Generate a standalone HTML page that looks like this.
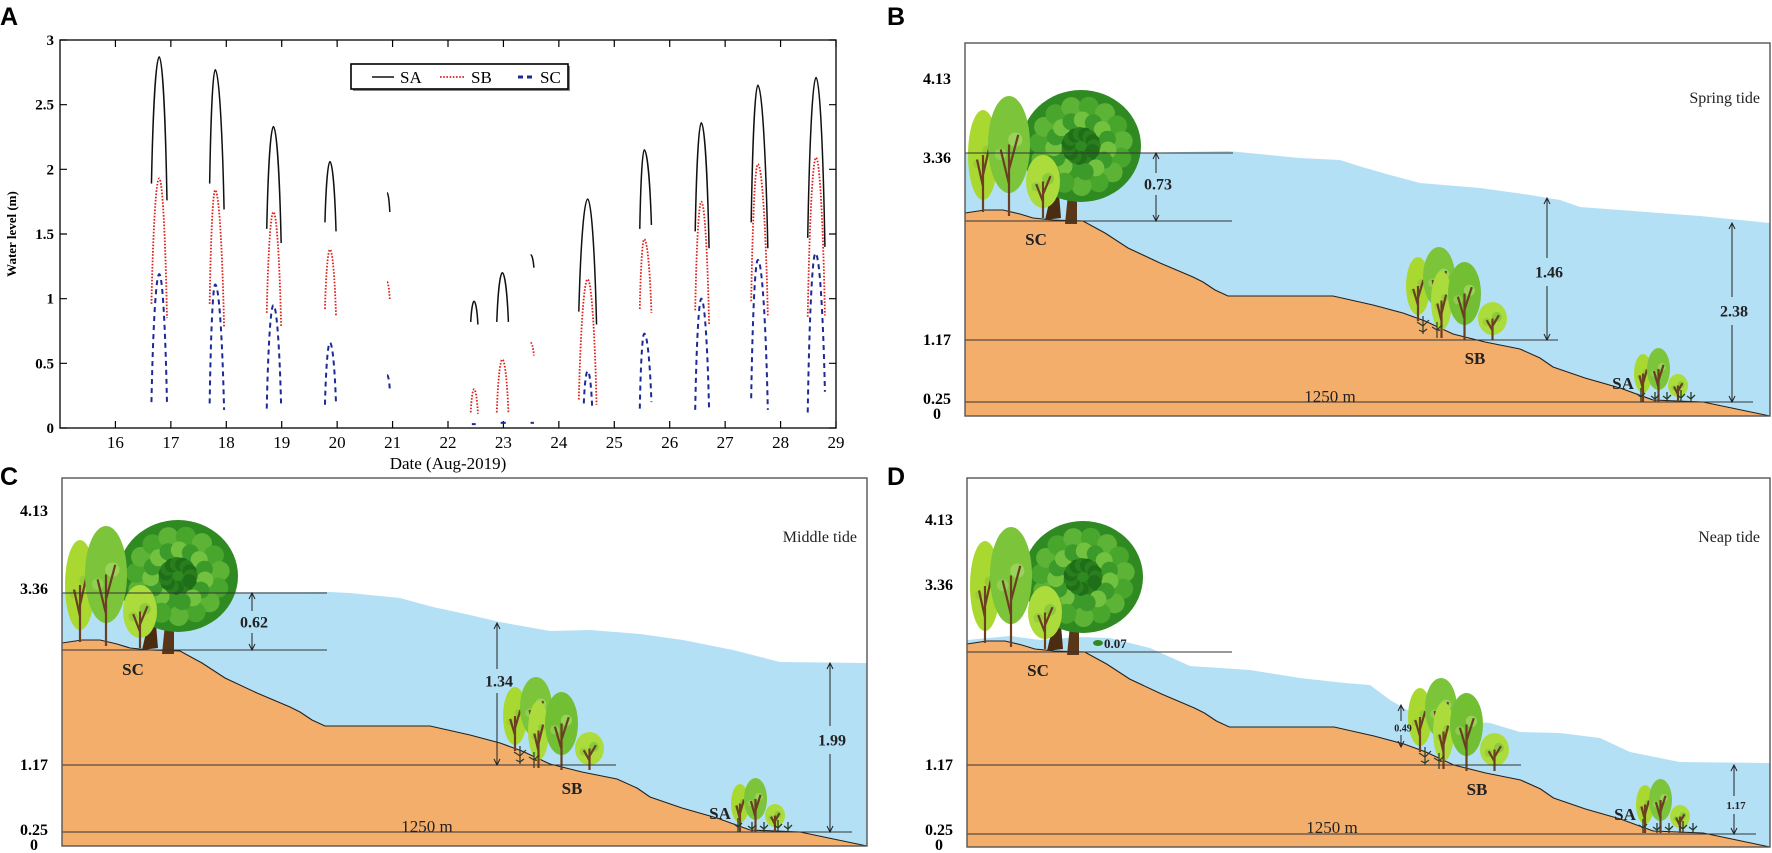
<!DOCTYPE html>
<html><head><meta charset="utf-8"><style>
html,body{margin:0;padding:0;background:#fff;width:1772px;height:853px;overflow:hidden;}
svg{display:block;}
</style></head><body>
<svg id="fig" xmlns="http://www.w3.org/2000/svg" width="1772" height="853" viewBox="0 0 1772 853">
<g id="panelA"></g>
<g id="panelB"></g>
<g id="panelC"></g>
<g id="panelD"></g>
</svg>
<script>
// ---- Panel A data ----
const days=[16,17,18,19,20,21,22,23,24,25,26,27,28,29];
const yTicks=[0,0.5,1,1.5,2,2.5,3];
const yTickLabels=["0","0.5","1","1.5","2","2.5","3"];
const saT0=[16.65,17.70,18.73,19.78,20.90,22.41,22.88,23.49,24.36,25.46,26.46,27.47,28.49];
const saTp=[16.79,17.80,18.85,19.87,20.90,22.47,22.98,23.49,24.52,25.54,26.57,27.59,28.64];
const saT1=[16.93,17.96,18.99,19.98,20.95,22.54,23.09,23.55,24.68,25.67,26.71,27.77,28.80];
const saV0=[1.89,1.89,1.54,1.59,1.82,0.82,0.82,1.34,0.90,1.54,1.52,1.59,1.47];
const saVp=[2.87,2.77,2.33,2.06,1.82,0.98,1.20,1.34,1.77,2.15,2.36,2.65,2.71];
const saV1=[1.76,1.69,1.43,1.52,1.67,0.80,0.82,1.24,0.80,1.57,1.39,1.39,1.40];
const sbV0=[0.96,0.96,0.89,0.92,1.13,0.12,0.12,0.66,0.22,0.92,0.91,0.98,0.86];
const sbVp=[1.93,1.84,1.67,1.38,1.13,0.30,0.53,0.66,1.15,1.46,1.75,2.04,2.09];
const sbV1=[0.85,0.78,0.78,0.86,0.99,0.11,0.12,0.56,0.18,0.89,0.80,0.87,0.87];
const scT0=[16.65,17.70,18.73,19.78,20.90,22.43,22.95,23.49,24.45,25.46,26.46,27.47,28.49];
const scTp=[16.79,17.80,18.85,19.87,20.90,22.47,23.00,23.50,24.52,25.54,26.57,27.59,28.63];
const scT1=[16.93,17.96,18.99,19.98,20.95,22.50,23.05,23.55,24.60,25.67,26.71,27.77,28.80];
const scV0=[0.20,0.19,0.15,0.18,0.41,0.03,0.04,0.04,0.19,0.15,0.14,0.23,0.12];
const scVp=[1.19,1.11,0.95,0.66,0.41,0.03,0.04,0.04,0.44,0.73,1.00,1.30,1.35];
const scV1=[0.19,0.14,0.16,0.18,0.30,0.03,0.04,0.04,0.17,0.20,0.14,0.14,0.28];

const NS="http://www.w3.org/2000/svg";
function el(parent,tag,attrs,text){const e=document.createElementNS(NS,tag);for(const k in attrs)e.setAttribute(k,attrs[k]);if(text!==undefined)e.textContent=text;parent.appendChild(e);return e;}

const A=document.getElementById('panelA');
const AX0=60,AX1=836,AY0=428,AY1=40;
function xs(d){return AX0+(d-15)*(AX1-AX0)/14;}
function ys(v){return AY0-v*(AY0-AY1)/3;}

let t=el(A,'text',{x:0,y:25,'font-family':'Liberation Sans,sans-serif','font-weight':'bold','font-size':25},'A');


let fr=el(A,'rect',{x:AX0,y:AY1,width:AX1-AX0,height:AY0-AY1,fill:'none',stroke:'#000','stroke-width':1.3});


days.forEach(d=>{
  const x=xs(d);
  let tk=el(A,'path',{d:`M${x} ${AY0}V${AY0-7}M${x} ${AY1}V${AY1+7}`,stroke:'#000','stroke-width':1.2});
  
  
  let lb=el(A,'text',{x:x,y:448,'text-anchor':'middle','font-family':'Liberation Serif,serif','font-size':17},String(d));
  
  
});
yTicks.forEach((v,i)=>{
  const y=ys(v);
  let tk=el(A,'path',{d:`M${AX0} ${y}H${AX0+7}M${AX1} ${y}H${AX1-7}`,stroke:'#000','stroke-width':1.2});
  
  
  let lb=el(A,'text',{x:AX0-6,y:y+5,'text-anchor':'end','font-family':'Liberation Serif,serif','font-weight':'bold','font-size':15},yTickLabels[i]);
  
  
});
let xt=el(A,'text',{x:448,y:469,'text-anchor':'middle','font-family':'Liberation Serif,serif','font-size':17},'Date (Aug-2019)');


let yt=el(A,'text',{x:0,y:0,transform:'translate(16,234) rotate(-90)','text-anchor':'middle','font-family':'Liberation Serif,serif','font-weight':'bold','font-size':13},'Water level (m)');



function arch(t0,tp,t1,v0,vp,v1){
  const x0=xs(t0),y0=ys(v0),xp=xs(tp),yp=ys(vp),x1=xs(t1),y1=ys(v1);
  let d=`M${x0} ${y0}`;
  const dx=xp-x0,dx2=x1-xp;
  if(dx>0)d+=` C${x0+dx*0.2} ${y0+(yp-y0)*0.6} ${xp-dx*0.4} ${yp} ${xp} ${yp}`;
  if(dx2>0)d+=` C${xp+dx2*0.4} ${yp} ${x1-dx2*0.2} ${y1+(yp-y1)*0.6} ${x1} ${y1}`;
  return d;
}
const styles={SA:{stroke:'#111','stroke-width':1.5,fill:'none'},SB:{stroke:'#e0201c','stroke-width':1.8,'stroke-dasharray':'1.6 1.6',fill:'none'},SC:{stroke:'#1b2a96','stroke-width':2,'stroke-dasharray':'5 4',fill:'none'}};
function drawSeries(name,T0,Tp,T1,V0,Vp,V1){
  const g=el(A,'g',{});
  
  
  for(let i=0;i<T0.length;i++){
    const p=el(g,'path',Object.assign({d:arch(T0[i],Tp[i],T1[i],V0[i],Vp[i],V1[i])},styles[name]));
    
    
  }
}
drawSeries('SC',scT0,scTp,scT1,scV0,scVp,scV1);
drawSeries('SB',saT0,saTp,saT1,sbV0,sbVp,sbV1);
drawSeries('SA',saT0,saTp,saT1,saV0,saVp,saV1);

// legend
const lg=el(A,'g',{});


el(lg,'rect',{x:353,y:66,width:217,height:25,fill:'#888'});
el(lg,'rect',{x:351,y:64,width:217,height:25,fill:'#fff',stroke:'#000','stroke-width':1.6});
[['SA',372,400],['SB',440,471],['SC',518,540]].forEach(([n,lx,tx])=>{
  const e=el(lg,'g',{});
  
  
  el(e,'line',Object.assign({x1:lx,y1:77,x2:tx-6,y2:77},styles[n],n==='SC'?{'stroke-width':3}:{}));
  el(e,'text',{x:tx,y:83,'font-family':'Liberation Serif,serif','font-size':17},n);
});

// ---- Panels B-D ----
const ground=[[0,-203],[20,-206],[38,-206],[55,-202],[68,-198],[88,-196],[118,-195],[140,-183],[163,-168],[195,-153],[228,-139],[238,-134],[250,-126],[263,-120],[278,-120],[368,-120],[408,-111],[438,-103],[460,-95],[488,-82],[520,-74],[555,-67],[575,-58],[588,-49],[620,-38],[655,-28],[688,-16],[738,-14],[805,0]];

function tree(g,x0,x1,y0,y1,col,inner,trunkBase){
  const cx=(x0+x1)/2,cy=(y0+y1)/2;
  el(g,'ellipse',{cx:cx,cy:cy,rx:(x1-x0)/2,ry:(y1-y0)/2,fill:col});
  el(g,'circle',{cx:cx+(x1-x0)*0.15,cy:cy-(y1-y0)*0.05,r:(x1-x0)*0.17,fill:inner,opacity:0.7});
  el(g,'circle',{cx:cx-(x1-x0)*0.2,cy:cy+(y1-y0)*0.1,r:(x1-x0)*0.14,fill:inner,opacity:0.5});
  const tb=trunkBase;
  el(g,'path',{d:`M${cx} ${tb}L${cx} ${cy}M${cx} ${cy+(tb-cy)*0.35}L${cx+(x1-x0)*0.22} ${cy-(y1-y0)*0.1}M${cx} ${cy+(tb-cy)*0.55}L${cx-(x1-x0)*0.2} ${cy+(y1-y0)*0.05}`,stroke:'#6b3f22','stroke-width':2.2,fill:'none'});
}
function bigTree(g,L,B){
  el(g,'path',{d:`M${L+100} ${B-192}L${L+104} ${B-232}L${L+112} ${B-232}L${L+112} ${B-192}Z`,fill:'#5a3618'});
  el(g,'path',{d:`M${L+80} ${B-196}L${L+86} ${B-222}L${L+94} ${B-222}L${L+96} ${B-198}Z`,fill:'#4a2c12'});
  el(g,'ellipse',{cx:L+116,cy:B-270,rx:60,ry:56,fill:'#2f8a22'});
  const cols=['#1f6e18','#3b9a2a','#5cb335','#2a7e1d','#72c240','#49a62c'];
  let k=0;
  for(let a=0;a<6.28;a+=0.42){
    for(let r=12;r<=52;r+=14){
      const px=L+116+Math.cos(a+r*0.07)*r*1.05, py=B-270+Math.sin(a+r*0.07)*r;
      el(g,'circle',{cx:px,cy:py,r:7+(k%3)*1.5,fill:cols[k%6]});
      k++;
    }
  }
  tree(g,L+3,L+33,B-306,B-216,'#a9d930','#8cc63a',B-204);
  tree(g,L+23,L+65,B-320,B-223,'#7cc43a','#a6da6a',B-200);
  tree(g,L+61,L+95,B-261,B-208,'#acdb3c','#7cc33b',B-198);
}
function groveB(g,L,B){
  tree(g,L+441,L+465,B-159,B-101,'#a9d930','#8cc63a',B-95);
  tree(g,L+458,L+490,B-169,B-109,'#7cc43a','#a6da6a',B-85);
  tree(g,L+466,L+487,B-145,B-86,'#acdb3c','#8cc63a',B-78);
  tree(g,L+483,L+516,B-154,B-91,'#72bf34','#a6da6a',B-76);
  tree(g,L+513,L+542,B-114,B-81,'#acdb3c','#7cc33b',B-76);
  el(g,'path',{d:`M${L+458} ${B-82}l0 -18m-6 6l6 4l6 -6m-10 10l4 2 4 -3M${L+472} ${B-78}l0 -16m-5 5l5 3l5 -5`,stroke:'#2a3a2a','stroke-width':1.2,fill:'none'});
}
function groveA(g,L,B){
  tree(g,L+669,L+687,B-62,B-23,'#a9d930','#8cc63a',B-14);
  tree(g,L+682,L+705,B-68,B-26,'#7cc43a','#a6da6a',B-14);
  tree(g,L+703,L+723,B-42,B-19,'#acdb3c','#7cc33b',B-14);
  el(g,'path',{d:`M${L+676} ${B-14}l0 -14m-4 6l4 3 4 -4M${L+690} ${B-14}l0 -10m-4 4l4 3 4-4M${L+702} ${B-14}l0 -10m-4 4l4 3 4-4M${L+716} ${B-14}l0 -12m-4 5l4 3 4-4M${L+726} ${B-14}l0 -10m-4 4l4 3 4-4`,stroke:'#2a3a2a','stroke-width':1.3,fill:'none'});
}
function arrow(g,x,y1,y2,ly,label,fs,gap){
  el(g,'path',{d:`M${x} ${y1}V${ly-gap}M${x} ${ly+gap}V${y2}`,stroke:'#222','stroke-width':1});
  el(g,'path',{d:`M${x-3} ${y1+6}L${x} ${y1}L${x+3} ${y1+6}M${x-3} ${y2-6}L${x} ${y2}L${x+3} ${y2-6}`,stroke:'#222','stroke-width':1,fill:'none'});
  const tx=el(g,'text',{x:x+2,y:ly+fs*0.35,'text-anchor':'middle','font-family':'Liberation Serif,serif','font-weight':'bold','font-size':fs,fill:'#222'},label);
  return tx;
}

function panel(id,cfg){
  const g=document.getElementById(id);
  const L=cfg.L,R=cfg.R,T=cfg.T,B=cfg.B;
  let lt=el(g,'text',{x:cfg.letterX,y:cfg.letterY,'font-family':'Liberation Sans,sans-serif','font-weight':'bold','font-size':25},cfg.letter);
  
  
  let wp='M'+cfg.water.map(p=>p.join(' ')).join(' L')+` L${R} ${B} L${L} ${B} Z`;
  let w=el(g,'path',{d:wp,fill:'#b4e0f6'});
  
  
  let gp=`M${L} ${B}`+ground.map(p=>` L${L+p[0]*(R-L)/805} ${B+p[1]}`).join('')+' Z';
  let gr=el(g,'path',{d:gp,fill:'#f3ae6c'});
  
  
  el(g,'path',{d:'M'+ground.map(p=>`${L+p[0]*(R-L)/805} ${B+p[1]}`).join(' L'),fill:'none',stroke:'#222','stroke-width':1.1});
  const tg=el(g,'g',{});
  
  
  bigTree(tg,L,B);groveB(tg,L,B);groveA(tg,L,B);
  cfg.lines.forEach(([y,x2])=>{
    let ln=el(g,'line',{x1:L,y1:y,x2:x2,y2:y,stroke:'#333','stroke-width':1.1});
    
    
  });
  let f=el(g,'rect',{x:L,y:T,width:R-L,height:B-T,fill:'none',stroke:'#555','stroke-width':1.4});
  
  
  cfg.ylabels.forEach(([txt,y])=>{
    let yl=el(g,'text',{x:txt==='0'?L-28:L-14,y:y+5,'text-anchor':txt==='0'?'middle':'end','font-family':'Liberation Serif,serif','font-weight':'bold','font-size':16},txt);
    
    
  });
  cfg.arrows.forEach(a=>{
    const at=arrow(g,a[0],a[1],a[2],a[3],a[4],a[5],a[6]);
    
    
  });
  [['SC',L+71,B-177],['SB',L+510,B-58],['SA',L+658,B-33]].forEach(([n,x,y])=>{
    let zl=el(g,'text',{x:x,y:y+6,'text-anchor':'middle','font-family':'Liberation Serif,serif','font-weight':'bold','font-size':17,fill:'#222'},n);
    
    
  });
  let dl=el(g,'text',{x:L+365,y:B-14,'text-anchor':'middle','font-family':'Liberation Serif,serif','font-size':17,fill:'#222'},'1250 m');
  
  
  let tl=el(g,'text',{x:R-10,y:cfg.titleY,'text-anchor':'end','font-family':'Liberation Serif,serif','font-size':16,fill:'#222'},cfg.title);
  
  
}

panel('panelB',{L:965,R:1770,T:43,B:416,letter:'B',letterX:887,letterY:25,title:'Spring tide',titleY:103,
  water:[[965,153],[1138,153],[1228,151],[1300,158],[1340,160],[1362,167],[1390,175],[1420,183],[1480,188],[1530,195],[1560,200],[1580,207],[1620,210],[1700,216],[1770,223]],
  lines:[[153,1233],[221,1232],[340,1558],[402,1753]],
  ylabels:[['4.13',79],['3.36',158],['1.17',340],['0.25',399],['0',414]],
  arrows:[[1156,153,221,184,'0.73',16,11],[1547,198,340,272,'1.46',16,14],[1732,223,402,311,'2.38',16,14]]});
panel('panelC',{L:62,R:867,T:478,B:846,letter:'C',letterX:0,letterY:485,title:'Middle tide',titleY:542,
  water:[[62,593],[330,592],[350,593],[400,598],[433,607],[470,615],[500,622],[550,631],[590,630],[640,634],[683,640],[733,650],[780,662],[867,663]],
  lines:[[593,327],[650,327],[765,616],[832,852]],
  ylabels:[['4.13',511],['3.36',589],['1.17',765],['0.25',830],['0',845]],
  arrows:[[252,593,650,622,'0.62',16,11],[497,623,765,681,'1.34',16,12],[830,663,832,740,'1.99',16,14]]});
panel('panelD',{L:967,R:1770,T:478,B:847,letter:'D',letterX:887,letterY:485,title:'Neap tide',titleY:542,
  water:[[967,640],[1010,636],[1040,640],[1077,637],[1110,638],[1150,648],[1190,666],[1250,670],[1300,678],[1345,683],[1370,685],[1390,700],[1420,717],[1450,720],[1490,723],[1520,732],[1560,733],[1600,738],[1630,752],[1680,762],[1770,763]],
  lines:[[652,1232],[765,1521],[834,1756]],
  ylabels:[['4.13',520],['3.36',585],['1.17',765],['0.25',830],['0',845]],
  arrows:[[1401,705,747,728,'0.49',10,7],[1734,765,834,805,'1.17',11,9]]});
(function(){const g=document.getElementById('panelD');
 el(g,'ellipse',{cx:1098,cy:643,rx:5,ry:3,fill:'#2f8a22'});
 let s=el(g,'text',{x:1104,y:648,'font-family':'Liberation Serif,serif','font-weight':'bold','font-size':13,fill:'#222'},'0.07');
 
 
})();
</script>
</body></html>
